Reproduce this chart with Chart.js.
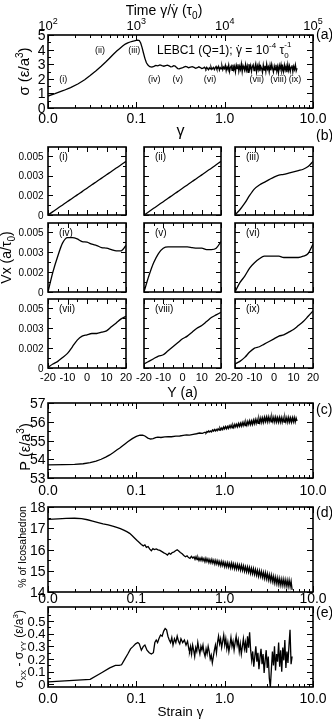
<!DOCTYPE html>
<html><head><meta charset="utf-8">
<script src="https://cdn.jsdelivr.net/npm/chart.js@4.4.1/dist/chart.umd.min.js"></script>
<style>
html,body{margin:0;padding:0;background:#fff;}
#wrap{position:relative;width:332px;height:720px;overflow:hidden;background:#fff;}
canvas{position:absolute;}
</style></head><body><div id="wrap"></div>
<script>
// ================= DATA =================
const strainTickValues = [0.01, 0.1, 1, 10];
const strainTickLabels = ['0.0', '0.1', '1.0', '10.0'];
const timeTickValues = [1e2, 1e3, 1e4, 1e5];
const timeTickBase = '10';
const timeTickExponents = ['2', '3', '4', '5'];

// (a) shear stress vs strain
const stressStrain = [0.010,0.012,0.015,0.018,0.022,0.026,0.030,0.035,0.040,0.045,0.050,0.055,0.060,0.065,0.070,0.075,0.080,0.085,0.090,0.095,0.100,0.104,0.108,0.112,0.116,0.120,0.125,0.130,0.136,0.142,0.150,0.158,0.166,0.175,0.185,0.195,0.205,0.215,0.225,0.235,0.245,0.255,0.265,0.275,0.285,0.295,0.305,0.315,0.330,0.345,0.360,0.375,0.390,0.410,0.430,0.450,0.470,0.490,0.510,0.530,0.550,0.570,0.590];
const stressValue = [0.82,0.98,1.20,1.40,1.66,1.93,2.22,2.55,2.86,3.15,3.43,3.68,3.90,4.08,4.24,4.38,4.46,4.52,4.57,4.60,4.63,4.65,4.62,4.45,4.15,3.80,3.40,3.10,2.92,2.83,2.80,2.85,2.92,2.89,2.95,2.90,2.86,2.90,2.93,2.88,2.82,2.84,2.90,2.87,2.78,2.70,2.68,2.72,2.74,2.80,2.85,2.82,2.76,2.80,2.83,2.78,2.72,2.76,2.82,2.77,2.70,2.73,2.80];
const stressNoiseRange = [0.6, 6.6];
const stressNoise = [2.74,2.66,2.79,2.70,2.62,2.76,2.68,2.81,2.64,2.72,2.78,2.63,2.75,2.84,2.66,2.71,2.85,2.60,2.77,2.69,2.88,2.62,2.80,2.70,
2.92,2.55,2.81,2.66,2.95,2.50,2.78,2.88,2.58,2.97,2.62,2.84,2.47,2.93,2.70,2.99,2.52,2.86,2.64,3.02,2.49,2.90,2.72,2.55,2.98,2.60,2.87,2.45,3.00,2.68,2.92,2.51,2.83,2.96,2.57,2.79,3.03,2.48,2.88,2.63,2.97,2.53,2.85,2.71,2.44,2.95,2.60,2.89,2.50,3.01,2.66,2.82,2.47,2.93,2.58,2.99,2.70,2.46,2.87,2.62,2.96,2.52,2.84,2.42,2.91,2.67,2.98,2.55,2.80,2.49,2.94,2.61,2.86,2.45,2.97,2.58,2.88,2.51,2.79,2.92,2.48,2.85,2.63,2.95,2.54,2.72];
const stressTicks = [0, 1, 2, 3, 4, 5];
const stressLabels = ['0', '1', '2', '3', '4', '5'];

// (b) velocity profiles Vx(Y) at the nine marked strains
const profileY = [-20,-17.5,-15,-12.5,-10,-7.5,-5,-2.5,0,2.5,5,7.5,10,12.5,15,17.5,20];
const profileI    = [0,0.00026,0.00051,0.00077,0.00103,0.00128,0.00154,0.00179,0.00205,0.00231,0.00256,0.00282,0.00308,0.00333,0.00359,0.00384,0.0041];
const profileII   = [0,0.00025,0.00051,0.00076,0.00102,0.00128,0.00153,0.00179,0.00204,0.0023,0.00256,0.00281,0.00307,0.00333,0.00358,0.00384,0.0041];
const profileIII  = [0,0.0004,0.0009,0.0015,0.0020,0.0023,0.0025,0.0027,0.0029,0.00305,0.0031,0.0032,0.0033,0.0034,0.0035,0.0037,0.0041];
const profileIV   = [0,0.0015,0.0027,0.0037,0.0041,0.0041,0.0040,0.0038,0.00375,0.0036,0.0035,0.00335,0.0033,0.0032,0.0031,0.0031,0.0035];
const profileV    = [0,0.0012,0.0022,0.0029,0.0033,0.0034,0.0034,0.0034,0.0034,0.0034,0.00335,0.0033,0.0033,0.0032,0.0032,0.0033,0.0038];
const profileVI   = [0,0.0007,0.0012,0.0018,0.0022,0.0025,0.0027,0.0027,0.0027,0.0027,0.0026,0.0026,0.0026,0.0026,0.0027,0.0029,0.0036];
const profileVII  = [0.00005,0.0003,0.0005,0.0008,0.0011,0.0016,0.0021,0.0024,0.0025,0.0026,0.0026,0.0027,0.0028,0.0031,0.0034,0.0037,0.0039];
const profileVIII = [0.0003,0.0005,0.0007,0.0009,0.0010,0.0013,0.0016,0.0019,0.0022,0.0024,0.0027,0.0030,0.0032,0.0035,0.0038,0.0040,0.0042];
const profileIX   = [0.0003,0.0005,0.0008,0.0012,0.0015,0.0016,0.0018,0.0020,0.0022,0.0024,0.0025,0.0027,0.0029,0.0032,0.0035,0.0039,0.0043];
const profileNames = ['(i)','(ii)','(iii)','(iv)','(v)','(vi)','(vii)','(viii)','(ix)'];
const profileTickValues = [0, 0.0015, 0.003, 0.0045];
const profileTickLabels = ['0', '0.002', '0.003', '0.005'];
const profileXTicks = [-20, -10, 0, 10, 20];
const profileXLabels = ['-20', '-10', '0', '10', '20'];

// (c) pressure
const pressureStrain = [0.010,0.015,0.020,0.025,0.030,0.035,0.040,0.045,0.050,0.055,0.060,0.065,0.070,0.075,0.080,0.090,0.100,0.110,0.118,0.125,0.135,0.145,0.155,0.165,0.175,0.190,0.210,0.230,0.250,0.280,0.310,0.340,0.370,0.400,0.440,0.480,0.520,0.560];
const pressureValue = [53.70,53.71,53.73,53.76,53.82,53.90,54.00,54.11,54.23,54.36,54.49,54.60,54.72,54.83,54.93,55.10,55.22,55.28,55.29,55.24,55.13,55.08,55.10,55.15,55.18,55.16,55.19,55.21,55.20,55.23,55.24,55.27,55.30,55.29,55.33,55.36,55.40,55.38];
const pressureNoiseRange = [0.6, 6.6];
const pressureNoise = [55.44,55.40,55.48,55.44,55.51,55.45,55.51,55.46,55.56,55.50,55.59,55.51,55.59,55.52,55.63,55.56,55.67,55.57,55.67,55.58,55.72,55.62,55.75,55.63,55.75,55.64,55.79,55.68,55.82,55.68,55.82,55.69,55.86,55.73,55.87,55.73,55.91,55.76,55.92,55.76,55.95,55.79,55.98,55.80,55.98,55.81,56.02,55.85,56.05,55.85,56.05,55.86,56.09,55.90,56.12,55.91,56.13,55.92,56.17,55.96,56.20,55.96,56.20,55.97,56.24,56.01,56.25,56.00,56.26,56.01,56.23,55.99,56.25,56.01,56.24,55.98,56.24,55.99,56.22,55.98,56.23,55.98,56.22,55.97,56.21,55.98,56.23,55.99,56.22,55.97,56.23,55.98,56.21,55.97,56.22,55.99,56.23,55.98,56.20,56.04];
const pressureTicks = [53, 54, 55, 56, 57];
const pressureLabels = ['53', '54', '55', '56', '57'];

// (d) icosahedral fraction
const icoStrain = [0.010,0.013,0.016,0.020,0.024,0.028,0.032,0.037,0.042,0.048,0.054,0.060,0.066,0.072,0.078,0.084,0.090,0.096,0.102,0.108,0.114,0.120,0.125,0.130,0.136,0.142,0.148,0.154,0.160,0.168,0.176,0.185,0.195,0.205,0.215,0.225,0.235,0.245,0.255,0.265,0.278,0.290,0.302,0.315,0.330,0.345,0.360,0.375,0.390,0.405,0.420,0.435];
const icoValue = [17.42,17.44,17.46,17.47,17.45,17.40,17.34,17.27,17.21,17.16,17.10,17.04,16.98,16.91,16.84,16.76,16.65,16.53,16.42,16.33,16.24,16.17,16.22,16.10,16.14,16.02,15.94,16.04,16.00,16.03,15.98,15.96,15.90,15.84,15.80,15.74,15.83,15.78,15.86,15.88,15.94,15.99,15.93,15.86,15.80,15.72,15.66,15.70,15.62,15.58,15.68,15.60];
const icoNoiseRange = [0.45, 5.8];
const icoNoise = [15.65,15.53,15.66,15.53,15.62,15.48,15.60,15.48,15.62,15.47,15.58,15.42,15.59,15.43,15.56,15.38,15.53,15.37,15.54,15.36,15.50,15.31,15.49,15.31,15.47,15.27,15.43,15.24,15.44,15.24,15.41,15.19,15.38,15.18,15.38,15.17,15.35,15.13,15.36,15.13,15.33,15.09,15.30,15.08,15.30,15.07,15.27,15.03,15.26,15.01,15.23,14.97,15.19,14.95,15.18,14.93,15.15,14.88,15.12,14.86,15.10,14.83,15.06,14.79,15.02,14.74,15.00,14.73,14.97,14.69,14.92,14.64,14.91,14.62,14.87,14.57,14.82,14.53,14.80,14.49,14.74,14.43,14.70,14.40,14.67,14.36,14.64,14.33,14.61,14.31,14.60,14.30,14.58,14.28,14.56,14.26,14.56,14.25,14.51,14.10];
const icoTicks = [14, 15, 16, 17, 18];
const icoLabels = ['14', '15', '16', '17', '18'];

// (e) normal stress difference
const nsdStrain = [0.010,0.030,0.040,0.050,0.058,0.064,0.068,0.074,0.080,0.086,0.092,0.098,0.104,0.108,0.114,0.120,0.125,0.132,0.140,0.148,0.156,0.162,0.168,0.174,0.180,0.188,0.196,0.204,0.212,0.220,0.228,0.236,0.244,0.252,0.260,0.270,0.280,0.290,0.300,0.310,0.320,0.335,0.350,0.365,0.380,0.395];
const nsdValue = [0.02,0.04,0.09,0.13,0.15,0.15,0.155,0.20,0.24,0.28,0.30,0.32,0.33,0.32,0.27,0.30,0.31,0.27,0.25,0.24,0.25,0.33,0.35,0.33,0.36,0.39,0.38,0.42,0.44,0.43,0.38,0.35,0.33,0.37,0.31,0.36,0.33,0.38,0.34,0.32,0.36,0.33,0.35,0.31,0.34,0.27];
const nsdNoiseRange = [0.4, 5.8];
const nsdNoise = [0.26,0.30,0.24,0.31,0.27,0.22,0.29,0.26,0.33,0.28,0.24,0.30,0.27,0.31,0.25,0.22,0.28,0.24,0.30,0.26,0.20,0.23,0.17,0.22,0.27,0.31,0.25,0.33,0.38,0.32,0.36,0.29,0.34,0.39,0.31,0.36,0.28,0.33,0.26,0.31,0.37,0.30,0.34,0.27,0.33,0.38,0.31,0.35,0.26,0.32,0.24,0.30,0.36,0.28,0.33,0.25,0.38,0.29,0.41,0.27,0.19,0.26,0.14,0.22,0.30,0.18,0.25,0.12,0.21,0.28,0.16,0.24,0.09,0.19,0.27,0.13,0.22,0.05,-0.02,0.12,0.26,0.15,0.30,0.11,0.24,0.18,0.33,0.14,0.27,0.10,0.29,0.19,0.35,0.13,0.26,0.17,0.31,0.43,0.16,0.22];
const nsdTicks = [0, 0.1, 0.2, 0.3, 0.4, 0.5];
const nsdLabels = ['0', '0.1', '0.2', '0.3', '0.4', '0.5'];

// ================= HELPERS =================
const FONT = '"Liberation Sans", Arial, Helvetica, sans-serif';
Chart.defaults.font.family = FONT;
Chart.defaults.color = '#000';
const wrap = document.getElementById('wrap');

function pairs(xs, ys) { return xs.map((x, i) => ({x, y: ys[i]})); }
// sample positions of the noisy records, evenly spaced in log strain
function logSamples(range, values) {
  const [a, b] = range, n = values.length;
  return values.map((v, i) => ({x: a * Math.pow(b / a, i / (n - 1)), y: v}));
}
function decadeMinors(lo, hi) {
  const out = [];
  for (let d = lo; d < hi * 0.999; d *= 10) for (let k = 2; k <= 9; k++) out.push(d * k);
  return out;
}
// draw text made of parts (sub/superscripts); baseline at (x,y)
function drawRich(ctx, parts, x, y, align, rot) {
  ctx.save(); ctx.translate(x, y); if (rot) ctx.rotate(rot);
  let cx = 0, prevStart = 0, prevW = 0; const placed = [];
  for (const p of parts) {
    ctx.font = p.s + 'px ' + FONT;
    const w = ctx.measureText(p.t).width;
    let sx;
    if (p.over) sx = prevStart + (prevW - w) / 2;
    else if (p.back) sx = prevStart;
    else { sx = cx; prevStart = sx; prevW = w; }
    placed.push([p, sx]);
    cx = Math.max(cx, sx + w);
  }
  const off = align === 'center' ? -cx / 2 : (align === 'right' ? -cx : 0);
  ctx.fillStyle = '#000'; ctx.textBaseline = 'alphabetic'; ctx.textAlign = 'left';
  for (const [p, sx] of placed) { ctx.font = p.s + 'px ' + FONT; ctx.fillText(p.t, off + sx, p.dy || 0); }
  ctx.restore();
}

const decorPlugin = {
  id: 'decor',
  afterDatasetsDraw(chart, args, o) {
    if (!o || !o.on) return;
    const ctx = chart.ctx, a = chart.chartArea;
    const xs = chart.scales.x, ys = chart.scales.y;
    const X = v => Math.round(xs.getPixelForValue(v)) + 0.5;
    const Y = v => Math.round(ys.getPixelForValue(v)) + 0.5;
    ctx.save();
    ctx.strokeStyle = '#000'; ctx.lineWidth = 1;
    const seg = (x1, y1, x2, y2) => { ctx.beginPath(); ctx.moveTo(x1, y1); ctx.lineTo(x2, y2); ctx.stroke(); };
    const M = o.maj || 6, m = o.min || 3;
    (o.xMajor || []).forEach(v => { const p = X(v); seg(p, a.bottom, p, a.bottom - M); seg(p, a.top, p, a.top + M); });
    (o.xMinor || []).forEach(v => { const p = X(v); seg(p, a.bottom, p, a.bottom - m); seg(p, a.top, p, a.top + m); });
    (o.yMajor || []).forEach(v => { const p = Y(v); seg(a.left, p, a.left + M, p); seg(a.right, p, a.right - M, p); });
    (o.yMinor || []).forEach(v => { const p = Y(v); seg(a.left, p, a.left + m, p); seg(a.right, p, a.right - m, p); });
    ctx.lineWidth = 1.6;
    ctx.strokeRect(a.left, a.top, a.right - a.left, a.bottom - a.top);
    // everything below is placed in page coordinates
    const [ox, oy] = o.off;
    ctx.translate(-ox, -oy);
    ctx.fillStyle = '#000';
    if (o.xLab) {
      const L = o.xLab;
      ctx.font = L.size + 'px ' + FONT; ctx.textAlign = 'center'; ctx.textBaseline = 'alphabetic';
      L.values.forEach((v, i) => ctx.fillText(L.labels[i], xs.getPixelForValue(v) + ox, L.base));
    }
    if (o.yLab) {
      const L = o.yLab;
      ctx.font = L.size + 'px ' + FONT; ctx.textAlign = 'right'; ctx.textBaseline = 'alphabetic';
      L.values.forEach((v, i) => ctx.fillText(L.labels[i], L.right, ys.getPixelForValue(v) + oy + 0.36 * L.size));
    }
    if (o.topLab) {
      const L = o.topLab, s2 = chart.scales.x2;
      L.values.forEach((v, i) => drawRich(ctx, [{t: L.base, s: L.size}, {t: L.exps[i], s: L.expSize, dy: L.expDy}],
        s2.getPixelForValue(v) + ox, L.baseY, 'center'));
    }
    (o.texts || []).forEach(t => {
      ctx.font = (t.size || 10) + 'px ' + FONT;
      ctx.textAlign = t.align || 'center'; ctx.textBaseline = t.baseline || 'middle';
      const px = t.data ? xs.getPixelForValue(t.x) + ox : (t.rel ? a.left + ox + t.x : t.x);
      const py = t.data ? ys.getPixelForValue(t.y) + oy : (t.rel ? a.top + oy + t.y : t.y);
      ctx.fillText(t.t, px, py);
    });
    (o.rich || []).forEach(r => drawRich(ctx, r.parts, r.x, r.y, r.align, r.rot));
    ctx.restore();
  }
};
Chart.register(decorPlugin);

function makePanel(o) {
  const c = document.createElement('canvas');
  c.width = o.cw; c.height = o.ch;
  Object.assign(c.style, {left: o.cx + 'px', top: o.cy + 'px', width: o.cw + 'px', height: o.ch + 'px'});
  wrap.appendChild(c);
  const L = o.L - o.cx, T = o.T - o.cy, R = o.R - o.cx, B = o.B - o.cy;
  const hidden = {display: false};
  const scales = {
    x: {
      type: o.xType, min: o.xMin, max: o.xMax, position: 'bottom',
      grid: hidden, border: hidden, title: hidden, ticks: {display: false},
      afterBuildTicks: s => { s.ticks = o.xMajor.map(v => ({value: v})); },
      afterFit: s => { s.height = o.ch - B; }
    },
    y: {
      type: 'linear', min: o.yMin, max: o.yMax, position: 'left',
      grid: hidden, border: hidden, title: hidden, ticks: {display: false},
      afterBuildTicks: s => { s.ticks = o.yMajor.map(v => ({value: v})); },
      afterFit: s => { s.width = L; }
    }
  };
  if (o.top) {
    scales.x2 = {
      type: 'logarithmic', min: o.top.min, max: o.top.max, position: 'top',
      grid: hidden, border: hidden, title: hidden, ticks: {display: false},
      afterBuildTicks: s => { s.ticks = o.top.values.map(v => ({value: v})); },
      afterFit: s => { s.height = T; }
    };
  }
  return new Chart(c, {
    type: 'line',
    data: {datasets: o.datasets.map(d => ({data: d, borderColor: '#000', borderWidth: o.lw || 1.3,
      pointRadius: 0, fill: false, tension: o.smooth ? 0.4 : 0, cubicInterpolationMode: o.smooth ? 'monotone' : 'default'}))},
    options: {
      responsive: false, devicePixelRatio: 1, animation: false, events: [],
      layout: {padding: {left: 0, top: o.top ? 0 : T, right: o.cw - R, bottom: 0}},
      plugins: {legend: {display: false}, tooltip: {enabled: false},
        decor: Object.assign({on: true, off: [o.cx, o.cy]}, o.decor)},
      scales
    }
  });
}

const strainMinors = decadeMinors(0.01, 10);
const LX = 48, RX = 313;
const R90 = -Math.PI / 2;

// ---------- (a) ----------
makePanel({
  cx: 0, cy: 0, cw: 332, ch: 142, L: LX, R: RX, T: 35, B: 108,
  xType: 'logarithmic', xMin: 0.01, xMax: 10, xMajor: strainTickValues,
  yMin: 0, yMax: 5, yMajor: stressTicks,
  top: {min: 1e2, max: 1e5, values: timeTickValues},
  datasets: [pairs(stressStrain, stressValue).concat(logSamples(stressNoiseRange, stressNoise))],
  decor: {
    xMajor: strainTickValues, xMinor: strainMinors, yMajor: stressTicks, yMinor: [0.5, 1.5, 2.5, 3.5, 4.5],
    xLab: {values: strainTickValues, labels: strainTickLabels, base: 123, size: 14},
    yLab: {values: stressTicks, labels: stressLabels, right: 45.5, size: 14},
    topLab: {values: timeTickValues, base: timeTickBase, exps: timeTickExponents, baseY: 30, size: 13, expSize: 9, expDy: -6},
    texts: [
      {t: '(i)', data: true, x: 0.0149, y: 1.92, size: 9},
      {t: '(ii)', data: true, x: 0.0388, y: 3.97, size: 9},
      {t: '(iii)', data: true, x: 0.0948, y: 3.97, size: 9},
      {t: '(iv)', data: true, x: 0.160, y: 1.92, size: 9},
      {t: '(v)', data: true, x: 0.294, y: 1.92, size: 9},
      {t: '(vi)', data: true, x: 0.684, y: 1.92, size: 9},
      {t: '(vii)', data: true, x: 2.31, y: 1.92, size: 9},
      {t: '(viii)', data: true, x: 4.06, y: 1.92, size: 9},
      {t: '(ix)', data: true, x: 6.27, y: 1.92, size: 9},
      {t: '(a)', x: 316, y: 35, size: 14, align: 'left'},
      {t: '(b)', x: 316, y: 136, size: 14, align: 'left'}
    ],
    rich: [
      {x: 164, y: 14.5, align: 'center', parts: [{t: 'Time γ/', s: 14}, {t: 'γ', s: 14}, {t: '˙', s: 14, over: true},
        {t: ' (τ', s: 14}, {t: '0', s: 10, dy: 4}, {t: ')', s: 14}]},
      {x: 180.5, y: 136, align: 'center', parts: [{t: 'γ', s: 16}]},
      {x: 28.5, y: 71.5, align: 'center', rot: R90, parts: [{t: 'σ (ε/a', s: 15}, {t: '3', s: 10, dy: -6}, {t: ')', s: 15}]},
      {x: 157, y: 54, align: 'left', parts: [{t: 'LEBC1 (Q=1); ', s: 12}, {t: 'γ', s: 12}, {t: '˙', s: 12, over: true},
        {t: ' = 10', s: 12}, {t: '-4', s: 8, dy: -6}, {t: ' τ', s: 12}, {t: '0', s: 8, dy: 4}, {t: '-1', s: 8, dy: -7, back: true}]}
    ]
  }
});

// ---------- (b) 3x3 grid ----------
const profiles = [profileI, profileII, profileIII, profileIV, profileV, profileVI, profileVII, profileVIII, profileIX];
const colL = [48, 144, 235], colR = [126, 221, 313];
const rowT = [147, 223, 299], rowB = [215, 292, 368];
profiles.forEach((vals, k) => {
  const r = Math.floor(k / 3), cI = k % 3;
  const cx = cI === 0 ? 0 : colL[cI] - 12;
  const cy = rowT[r] - 6;
  const bottom = r === 2 ? 402 : rowB[r] + 6;
  const rich = [];
  if (r === 2 && cI === 1) rich.push({x: 182.5, y: 396.5, align: 'center', parts: [{t: 'Y (a)', s: 14}]});
  if (r === 1 && cI === 0) rich.push({x: 11, y: 257.5, align: 'center', rot: R90,
    parts: [{t: 'Vx (a/τ', s: 14}, {t: '0', s: 10, dy: 4}, {t: ')', s: 14}]});
  makePanel({
    cx, cy, cw: colR[cI] + 12 - cx, ch: bottom - cy, L: colL[cI], R: colR[cI], T: rowT[r], B: rowB[r],
    xType: 'linear', xMin: -20, xMax: 20, xMajor: profileXTicks,
    yMin: 0, yMax: 0.0052, yMajor: profileTickValues,
    smooth: true, lw: 1.3,
    datasets: [pairs(profileY, vals)],
    decor: {maj: 5, min: 3, xMajor: profileXTicks, xMinor: [-15, -5, 5, 15], yMajor: profileTickValues, yMinor: [0.00075, 0.00225, 0.00375],
      xLab: r === 2 ? {values: profileXTicks, labels: profileXLabels, base: 381, size: 11} : null,
      yLab: cI === 0 ? {values: profileTickValues, labels: profileTickLabels, right: 43.5, size: 10} : null,
      texts: [{t: profileNames[k], rel: true, x: 11, y: 10, size: 10, align: 'left'}],
      rich}
  });
});

// ---------- (c) ----------
makePanel({
  cx: 0, cy: 393, cw: 332, ch: 107, L: LX, R: RX, T: 403, B: 478,
  xType: 'logarithmic', xMin: 0.01, xMax: 10, xMajor: strainTickValues,
  yMin: 53, yMax: 57, yMajor: pressureTicks,
  datasets: [pairs(pressureStrain, pressureValue).concat(logSamples(pressureNoiseRange, pressureNoise))],
  decor: {xMajor: strainTickValues, xMinor: strainMinors, yMajor: pressureTicks, yMinor: [53.5, 54.5, 55.5, 56.5],
    xLab: {values: strainTickValues, labels: strainTickLabels, base: 494.5, size: 14},
    yLab: {values: pressureTicks, labels: pressureLabels, right: 45.5, size: 14},
    texts: [{t: '(c)', x: 316, y: 410, size: 14, align: 'left'}],
    rich: [{x: 29.5, y: 447, align: 'center', rot: R90, parts: [{t: 'P (ε/a', s: 14.5}, {t: '3', s: 10, dy: -6}, {t: ')', s: 14.5}]}]}
});

// ---------- (d) ----------
makePanel({
  cx: 0, cy: 497, cw: 332, ch: 110, L: LX, R: RX, T: 507, B: 592,
  xType: 'logarithmic', xMin: 0.01, xMax: 10, xMajor: strainTickValues,
  yMin: 14, yMax: 18, yMajor: icoTicks,
  datasets: [pairs(icoStrain, icoValue).concat(logSamples(icoNoiseRange, icoNoise))],
  decor: {xMajor: strainTickValues, xMinor: strainMinors, yMajor: icoTicks, yMinor: [14.5, 15.5, 16.5, 17.5],
    xLab: {values: strainTickValues, labels: strainTickLabels, base: 602.5, size: 14},
    yLab: {values: icoTicks, labels: icoLabels, right: 45.5, size: 14},
    texts: [{t: '(d)', x: 316, y: 513, size: 14, align: 'left'}],
    rich: [{x: 26, y: 547, align: 'center', rot: R90, parts: [{t: '% of Icosahedron', s: 10.5}]}]}
});

// ---------- (e) ----------
makePanel({
  cx: 0, cy: 597, cw: 332, ch: 123, L: LX, R: RX, T: 607, B: 687,
  xType: 'logarithmic', xMin: 0.01, xMax: 10, xMajor: strainTickValues,
  yMin: -0.02, yMax: 0.61, yMajor: nsdTicks,
  datasets: [pairs(nsdStrain, nsdValue).concat(logSamples(nsdNoiseRange, nsdNoise))],
  decor: {xMajor: strainTickValues, xMinor: strainMinors, yMajor: nsdTicks, yMinor: [0.05, 0.15, 0.25, 0.35, 0.45, 0.55],
    xLab: {values: strainTickValues, labels: strainTickLabels, base: 702.5, size: 14},
    yLab: {values: nsdTicks, labels: nsdLabels, right: 45.5, size: 13},
    texts: [{t: '(e)', x: 316, y: 613, size: 14, align: 'left'}],
    rich: [
      {x: 180.5, y: 716, align: 'center', parts: [{t: 'Strain γ', s: 13.5}]},
      {x: 22.5, y: 649, align: 'center', rot: R90, parts: [
        {t: 'σ', s: 12}, {t: 'XX', s: 8, dy: 3}, {t: ' - σ', s: 12}, {t: 'YY', s: 8, dy: 3},
        {t: ' (ε/a', s: 12}, {t: '3', s: 8, dy: -5}, {t: ')', s: 12}]}
    ]}
});
</script>
</body></html>
